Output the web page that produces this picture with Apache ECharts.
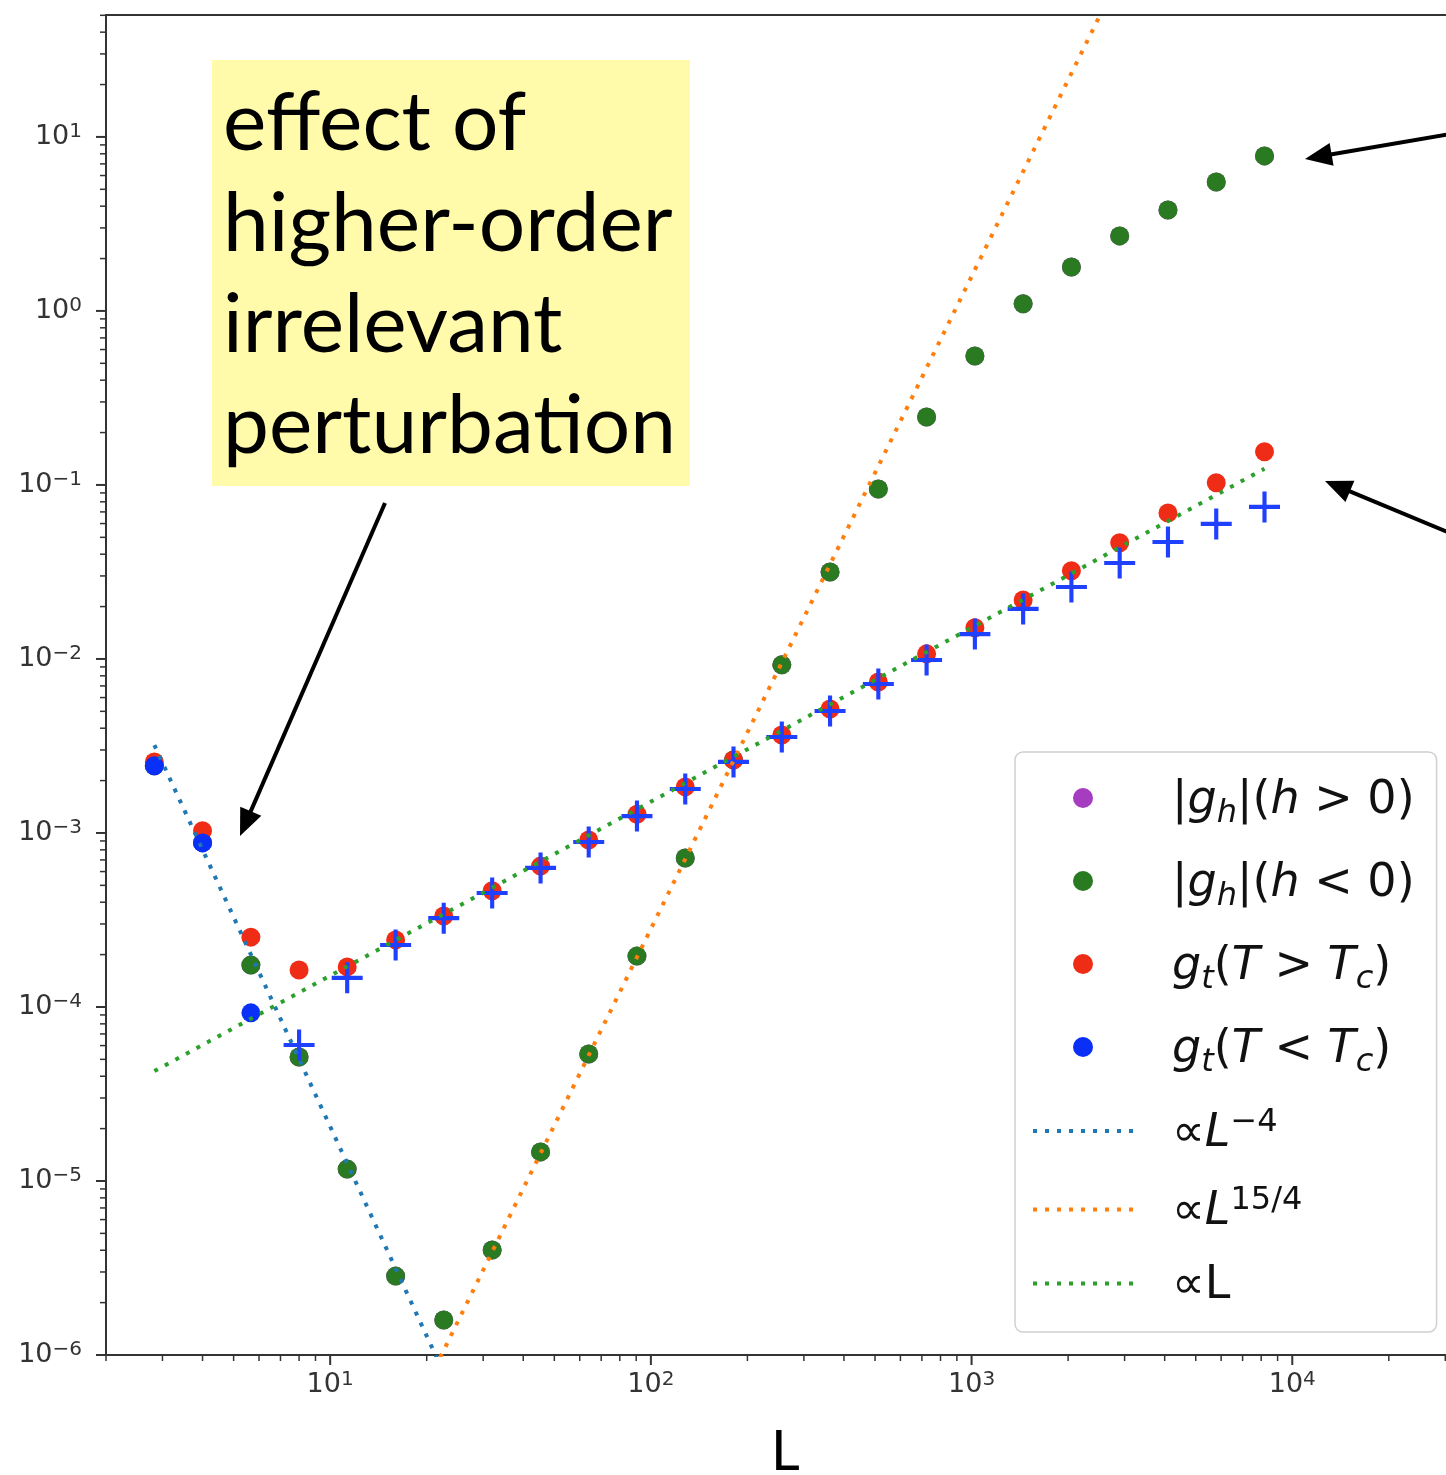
<!DOCTYPE html>
<html>
<head>
<meta charset="utf-8">
<script src="https://cdn.jsdelivr.net/npm/echarts@6/dist/echarts.min.js"></script>
<style>
html,body{margin:0;padding:0;background:#fff;}
#chart{width:1446px;height:1475px;}
</style>
</head>
<body>
<div id="chart"></div>
<script>
// ---------------- data ----------------
const L = [2.83, 4, 5.66, 8, 11.3, 16, 22.6, 32, 45.3, 64, 90.5, 128, 181, 256, 362, 512, 724, 1024, 1448, 2048, 2896, 4096, 5793, 8192];
// |g_h| (h>0) – hidden underneath the h<0 points
const ghPos = [2.43e-3, 8.8e-4, 1.74e-4, 5.16e-5, 1.17e-5, 2.84e-6, 1.59e-6, 4.01e-6, 1.47e-5, 5.37e-5, 1.96e-4, 7.18e-4, 2.63e-3, 9.25e-3, 3.16e-2, 9.48e-2, 0.246, 0.551, 1.10, 1.79, 2.70, 3.80, 5.51, 7.78];
// |g_h| (h<0)
const ghNeg = [2.43e-3, 8.8e-4, 1.74e-4, 5.16e-5, 1.17e-5, 2.84e-6, 1.59e-6, 4.01e-6, 1.47e-5, 5.37e-5, 1.96e-4, 7.18e-4, 2.63e-3, 9.25e-3, 3.16e-2, 9.48e-2, 0.246, 0.551, 1.10, 1.79, 2.70, 3.80, 5.51, 7.78];
// g_t (T>Tc)
const gtAbove = [2.56e-3, 1.03e-3, 2.52e-4, 1.63e-4, 1.70e-4, 2.43e-4, 3.33e-4, 4.65e-4, 6.45e-4, 9.12e-4, 1.28e-3, 1.84e-3, 2.63e-3, 3.66e-3, 5.16e-3, 7.38e-3, 1.07e-2, 1.51e-2, 2.18e-2, 3.21e-2, 4.65e-2, 6.90e-2, 0.103, 0.155];
// g_t (T<Tc): positive values (dots) at the three smallest L
const gtBelowL = [2.83, 4, 5.66];
const gtBelow = [2.43e-3, 8.77e-4, 9.25e-5];
// |g_t| (T<Tc): negative values, drawn as '+'
const gtBelowAbsL = [8, 11.3, 16, 22.6, 32, 45.3, 64, 90.5, 128, 181, 256, 362, 512, 724, 1024, 1448, 2048, 2896, 4096, 5793, 8192];
const gtBelowAbs = [6.05e-5, 1.47e-4, 2.27e-4, 3.24e-4, 4.52e-4, 6.30e-4, 8.87e-4, 1.25e-3, 1.79e-3, 2.56e-3, 3.56e-3, 5.02e-3, 7.18e-3, 9.86e-3, 1.39e-2, 1.94e-2, 2.59e-2, 3.56e-2, 4.70e-2, 5.97e-2, 7.48e-2];
// guide lines (end points)
const fitMinus4 = [[2.83, 3.2e-3], [8192, 4.6e-17]];
const fit15over4 = [[2.83, 4.4e-10], [8192, 4.2e3]];
const fitLinear = [[2.83, 4.28e-5], [8192, 0.124]];

// axes / ticks
const xRange = [2, 39810];
const yRange = [1e-6, 50.2];
const xTickExps = [1, 2, 3, 4];
const yTickExps = [-6, -5, -4, -3, -2, -1, 0, 1];
const xDecades = [1, 10, 100, 1000, 10000];
const yDecades = [1e-6, 1e-5, 1e-4, 1e-3, 1e-2, 1e-1, 1, 10];
const minorMult = [2, 3, 4, 5, 6, 7, 8, 9];

// ---------------- helpers ----------------
const MINUS = '\u2212';
function expLabel(v) {
  const lg = Math.log10(v);
  const e = Math.round(lg);
  if (Math.abs(lg - e) > 1e-6) return '';
  return '{b|10}{s|' + (e < 0 ? MINUS + (-e) : String(e)) + '}';
}
const labelRich = {
  b: {fontFamily: 'DejaVu Sans', fontSize: 27, color: '#333'},
  s: {fontFamily: 'DejaVu Sans', fontSize: 20, color: '#333', padding: [0, 0, 10, 0]}
};

const inRange = (v, r) => v >= r[0] * 0.9999 && v <= r[1] * 1.0001;
const xTickData = [];
xTickExps.forEach(e => xTickData.push([Math.pow(10, e), yRange[0], 1]));
xDecades.forEach(d => minorMult.forEach(m => { const v = m * d; if (inRange(v, xRange)) xTickData.push([v, yRange[0], 0]); }));
const yTickData = [];
yTickExps.forEach(e => yTickData.push([xRange[0], Math.pow(10, e), 1]));
yDecades.forEach(d => minorMult.forEach(m => { const v = m * d; if (inRange(v, yRange)) yTickData.push([xRange[0], v, 0]); }));

// legend rich text: row height is fixed by the (transparent-boxed) spacer token "g<H>"
function richSet(H) {
  const F = 46;
  const base = {fontFamily: 'DejaVu Sans', fontSize: F, color: '#111'};
  const o = {};
  o['n' + H] = Object.assign({}, base, {padding: [6, 0, 0, 0]});
  o['i' + H] = Object.assign({}, base, {fontStyle: 'italic', padding: [6, 0, 0, 0]});
  o['b' + H] = Object.assign({}, base, {fontSize: 32, fontStyle: 'italic', padding: [31, 0, 0, 0]});
  o['p' + H] = Object.assign({}, base, {fontSize: 32, padding: [0, 0, 17.6, 0]});
  o['g' + H] = Object.assign({}, base, {width: 34, padding: [(H - F) / 2, 0, (H - F) / 2, 0],
                                         backgroundColor: 'rgba(255,255,255,0)'});
  return o;
}
const legendRich = Object.assign({}, richSet(63), richSet(65), richSet(52), richSet(56));
const legendText = {
  'gh_pos': '{g63| }{n63||}{i63|g}{b63|h}{n63||(}{i63|h}{n63| > 0)}',
  'gh_neg': '{g63| }{n63||}{i63|g}{b63|h}{n63||(}{i63|h}{n63| < 0)}',
  'gt_above': '{g63| }{i63|g}{b63|t}{n63|(}{i63|T}{n63| > }{i63|T}{b63|c}{n63|)}',
  'gt_below': '{g63| }{i63|g}{b63|t}{n63|(}{i63|T}{n63| < }{i63|T}{b63|c}{n63|)}',
  'fit_m4': '{g65| }{n65|\u221D}{i65|L}{p65|' + MINUS + '4}',
  'fit_154': '{g52| }{n52|\u221D}{i52|L}{p52|15/4}',
  'fit_1': '{g56| }{n56|\u221DL}'
};
let dots = '';
for (let k = 0; k < 9; k++) dots += 'M' + (k * 12) + ',0h4v4h-4z ';
dots += 'M100,0h0.01v4h-0.01z';
const dotIcon = 'path://' + dots;

const C = {purple: '#a63cbf', green: '#2a7a22', red: '#ef2d17', blue: '#0a2ff7', plus: '#2040ff',
           tabBlue: '#1f77b4', tabOrange: '#ff7f0e', tabGreen: '#2ca02c'};
const plusPath = 'path://M13,0H17V13H30V17H17V30H13V17H0V13H13Z';

function zip(xs, ys) { return xs.map((x, i) => [x, ys[i]]); }
function scatter(name, xs, ys, color, symbol, size) {
  return {name, type: 'scatter', data: zip(xs, ys), symbol, symbolSize: size,
          itemStyle: {color, opacity: 1}, silent: true, z: 2};
}
function guide(name, pts, color) {
  return {name, type: 'line', data: pts, symbol: 'none', showSymbol: false, silent: true, z: 3,
          itemStyle: {color}, lineStyle: {color, width: 4, type: [4, 8]}};
}
function tickSeries(data, vertical) {
  return {
    type: 'custom', data, clip: false, silent: true, z: 5,
    encode: {x: 0, y: 1},
    renderItem: (params, api) => {
      const p = api.coord([api.value(0), api.value(1)]);
      const len = api.value(2) ? 10 : 6;
      const shape = vertical ? {x1: p[0], y1: p[1], x2: p[0], y2: p[1] + len}
                             : {x1: p[0], y1: p[1], x2: p[0] - len, y2: p[1]};
      return {type: 'line', shape, style: {stroke: '#333', lineWidth: api.value(2) ? 2 : 1.5}};
    }
  };
}
function arrow(tail, tip) {
  const dx = tip[0] - tail[0], dy = tip[1] - tail[1];
  const len = Math.hypot(dx, dy), ux = dx / len, uy = dy / len;
  const hl = 27, hw = 11.5;
  const bx = tip[0] - ux * hl, by = tip[1] - uy * hl;
  return [
    {type: 'line', shape: {x1: tail[0], y1: tail[1], x2: bx + ux * 4, y2: by + uy * 4},
     style: {stroke: '#000', lineWidth: 4}, z: 20},
    {type: 'polygon', shape: {points: [tip, [bx - uy * hw, by + ux * hw], [bx + uy * hw, by - ux * hw]]},
     style: {fill: '#000'}, z: 20}
  ];
}

const chart = echarts.init(document.getElementById('chart'), null, {renderer: 'canvas'});
chart.setOption({
  animation: false,
  backgroundColor: '#fff',
  textStyle: {fontFamily: 'DejaVu Sans'},
  grid: {left: 106, top: 15, width: 1378.7, height: 1340, show: true, borderColor: '#333', borderWidth: 2,
         backgroundColor: 'transparent', containLabel: false, outerBoundsMode: 'none'},
  xAxis: {
    type: 'log', logBase: 10, min: xRange[0], max: xRange[1],
    name: 'L', nameLocation: 'middle', nameGap: 69,
    nameTextStyle: {fontFamily: 'Lato', fontSize: 56, color: '#000', padding: [0, 20, 0, 0]},
    axisLine: {show: false}, axisTick: {show: false}, splitLine: {show: false}, minorTick: {show: false},
    axisLabel: {interval: 0, margin: 15, formatter: expLabel, rich: labelRich}
  },
  yAxis: {
    type: 'log', logBase: 10, min: yRange[0], max: yRange[1],
    axisLine: {show: false}, axisTick: {show: false}, splitLine: {show: false}, minorTick: {show: false},
    axisLabel: {interval: 0, margin: 24, formatter: expLabel, rich: labelRich}
  },
  legend: {
    orient: 'vertical', left: 1015, top: 752,
    padding: [14.5, 22, 20.5, 18], itemGap: 20, itemWidth: 100, itemHeight: 20,
    backgroundColor: 'rgba(255,255,255,0.8)', borderColor: '#d0d0d0', borderWidth: 1.5, borderRadius: 8,
    selectedMode: false,
    data: [
      {name: 'gh_pos', icon: 'circle', itemStyle: {borderWidth: 0}},
      {name: 'gh_neg', icon: 'circle', itemStyle: {borderWidth: 0}},
      {name: 'gt_above', icon: 'circle', itemStyle: {borderWidth: 0}},
      {name: 'gt_below', icon: 'circle', itemStyle: {borderWidth: 0}},
      {name: 'fit_m4', icon: dotIcon, itemStyle: {borderWidth: 0}},
      {name: 'fit_154', icon: dotIcon, itemStyle: {borderWidth: 0}},
      {name: 'fit_1', icon: dotIcon, itemStyle: {borderWidth: 0}}
    ],
    formatter: name => legendText[name],
    textStyle: {rich: legendRich}
  },
  series: [
    scatter('gh_pos', L, ghPos, C.purple, 'circle', 19),
    scatter('gh_neg', L, ghNeg, C.green, 'circle', 19),
    scatter('gt_above', L, gtAbove, C.red, 'circle', 19),
    scatter('gt_below', gtBelowL, gtBelow, C.blue, 'circle', 19),
    scatter('gt_below_abs', gtBelowAbsL, gtBelowAbs, C.plus, plusPath, 31),
    guide('fit_m4', fitMinus4, C.tabBlue),
    guide('fit_154', fit15over4, C.tabOrange),
    guide('fit_1', fitLinear, C.tabGreen),
    tickSeries(xTickData, true),
    tickSeries(yTickData, false)
  ],
  graphic: [
    {type: 'rect', shape: {x: 212, y: 60, width: 478, height: 426}, style: {fill: '#fffbab'}, z: 10},
    {type: 'text', x: 223, y: 73, z: 11,
     style: {text: 'effect of\nhigher-order\nirrelevant\nperturbation', font: '82px Lato', lineHeight: 101,
             fill: '#000', textVerticalAlign: 'top'}},
    ...arrow([385, 503], [240, 836]),
    ...arrow([1450, 134], [1305, 159]),
    ...arrow([1450, 533], [1325, 481])
  ]
});
</script>
</body>
</html>
